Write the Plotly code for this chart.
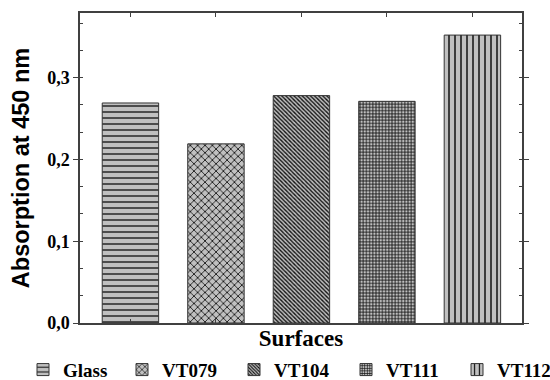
import plotly.graph_objects as go

surfaces = ["Glass", "VT079", "VT104", "VT111", "VT112"]
absorption = [0.269, 0.219, 0.278, 0.271, 0.352]
y_tick_vals = [0.0, 0.1, 0.2, 0.3]
y_tick_text = ["0,0", "0,1", "0,2", "0,3"]

# styling (not data)
patterns = [
    dict(shape="-", size=6, solidity=0.22),
    dict(shape="x", size=5.2, solidity=0.3),
    dict(shape="\\", size=2.9, solidity=0.45),
    dict(shape="+", size=3.2, solidity=0.45),
    dict(shape="|", size=6, solidity=0.25),
]
legend_text_x = [65, 164, 276, 388, 499]  # pixel starts of legend texts

W, H = 550, 380
serif = "Liberation Serif, Times New Roman, serif"
sans = "Liberation Sans, Arial, sans-serif"

fig = go.Figure()
for i, (name, val) in enumerate(zip(surfaces, absorption)):
    p = patterns[i]
    fig.add_trace(go.Bar(
        x=[name], y=[val], name=name, width=0.66,
        marker=dict(
            color="#c0c0c0",
            line=dict(color="#333333", width=1),
            pattern=dict(shape=p["shape"], size=p["size"], solidity=p["solidity"],
                         fillmode="replace", bgcolor="#c0c0c0", fgcolor="#111111",
                         fgopacity=1),
        ),
        legend="legend" if i == 0 else f"legend{i+1}",
        showlegend=True,
        hoverinfo="skip",
    ))

legend_common = dict(
    orientation="h", xref="container", yref="container", yanchor="middle",
    xanchor="left", y=0.027, bgcolor="rgba(0,0,0,0)", borderwidth=0,
    font=dict(family=serif, size=19, color="black", weight="bold"),
    itemwidth=30,
)
layout_legends = {}
for i, tx in enumerate(legend_text_x):
    key = "legend" if i == 0 else f"legend{i+1}"
    layout_legends[key] = dict(legend_common, x=(tx - 42) / W)

fig.update_layout(
    width=W, height=H,
    margin=dict(l=80, r=28, t=13, b=57, autoexpand=False),
    paper_bgcolor="white", plot_bgcolor="white",
    **layout_legends,
)

fig.update_xaxes(
    type="category", categoryorder="array", categoryarray=surfaces,
    range=[-0.59, 4.58],
    showline=True, linecolor="#404040", linewidth=1.5, mirror="ticks",
    ticks="inside", ticklen=4, tickcolor="#404040", showticklabels=False,
    showgrid=False, zeroline=False,
    title=dict(text="Surfaces", font=dict(family=serif, size=23, color="black", weight="bold"),
               standoff=6),
)
fig.update_yaxes(
    range=[0, 0.379],
    tickvals=y_tick_vals, ticktext=y_tick_text,
    showline=True, linecolor="#404040", linewidth=1.5, mirror="ticks",
    ticks="outside", ticklen=5, tickcolor="#404040",
    tickfont=dict(family=serif, size=18, color="black", weight="bold"),
    minor=dict(dtick=0.1 / 3, tick0=0, ticks="inside", ticklen=3, tickcolor="#404040"),
    showgrid=False, zeroline=False,
    title=dict(text="Absorption at 450 nm", font=dict(family=sans, size=23.5, color="black", weight="bold"),
               standoff=11),
)

fig.write_html("out.html", config={"displayModeBar": False},
               post_script="document.body.style.margin='0';document.body.style.overflow='hidden';")
